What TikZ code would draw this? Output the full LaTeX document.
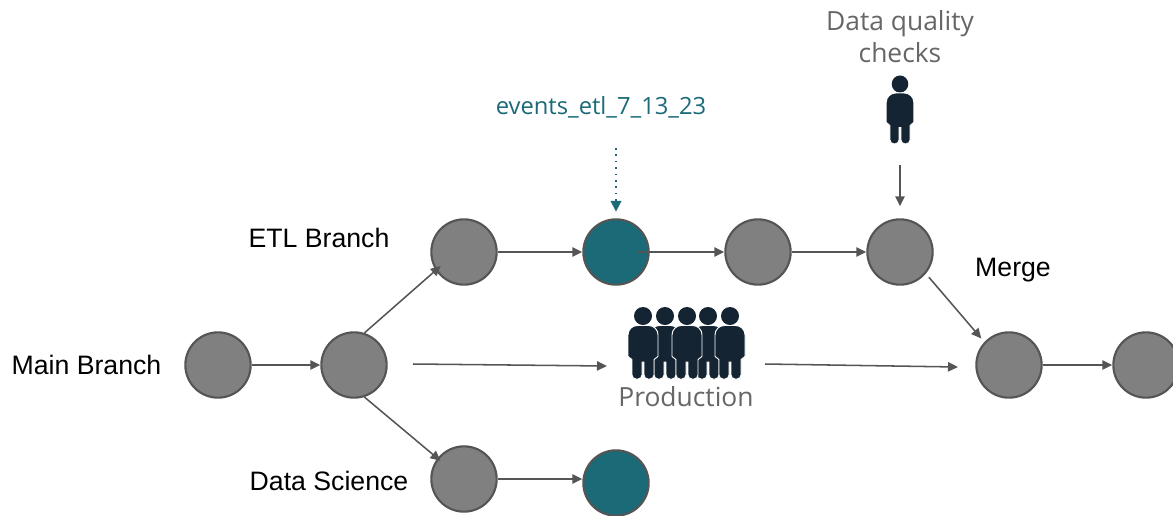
\documentclass[tikz,border=0pt]{standalone}
\usepackage{fontspec}
\setmainfont{Liberation Sans}
\newfontfamily\interfont{Open Sans}
\usetikzlibrary{arrows.meta}
\definecolor{tealc}{HTML}{1A6A78}
\definecolor{gfill}{HTML}{808080}
\definecolor{gline}{HTML}{555555}
\definecolor{gtext}{HTML}{666666}
\definecolor{navy}{HTML}{152433}
\tikzset{
  x=0.75pt,y=-0.75pt,
  base/.style={circle,draw=gline,line width=1.6pt,minimum size=49pt,inner sep=0pt},
  grey/.style={base,fill=gfill},
  tealnode/.style={base,fill=tealc},
  conn/.style={draw=gline,line width=1.15pt,-{Triangle[length=7.5pt,width=7pt]}},
  dotconn/.style={draw=tealc,line width=1.15pt,dash pattern=on 1.2pt off 3.6pt,-{Triangle[length=8pt,width=8pt]}},
  blacklabel/.style={font=\fontsize{20}{24}\selectfont,text=black,inner sep=0pt},
  greylabel/.style={font=\interfont\fontsize{19.8}{24}\selectfont,text=gtext,inner sep=0pt,align=center},
  teallabel/.style={font=\interfont\fontsize{17.8}{22}\selectfont,text=tealc,inner sep=0pt},
  person/.pic={
    \fill[navy] (0,0) circle (9);
    \fill[navy,draw=white,line width=0.7pt]
      (-15,30) [rounded corners=7pt] -- (-15,9.5) -- (15,9.5) -- (15,30)
      [sharp corners] -- (15,38) [rounded corners=1.3pt] -- (15,42) -- (11,42)
      [sharp corners] -- (11,58) [rounded corners=3pt] -- (11,63) -- (1,63)
      [sharp corners] -- (1,46) -- (-1,46) -- (-1,58) [rounded corners=3pt] -- (-1,63) -- (-11,63)
      [sharp corners] -- (-11,46) [rounded corners=1.3pt] -- (-11,42) -- (-15,42) [sharp corners] -- cycle;
  }
}
\begin{document}
\begin{tikzpicture}
\path[use as bounding box] (0,0) rectangle (1173,515);
\clip (0,0) rectangle (1173,515);
\node[grey] (main) at (218,365) {};
\node[grey] (fork) at (354,365) {};
\node[grey] (e1) at (464,252) {};
\node[tealnode] (e2) at (616,252) {};
\node[grey] (e3) at (758,252) {};
\node[grey] (e4) at (900,252) {};
\node[grey] (merge) at (1009,365) {};
\node[grey] (end) at (1146,365) {};
\node[grey] (d1) at (464,479) {};
\node[tealnode] (d2) at (616,483) {};

\node[blacklabel] (lmain) at (86.5,365) {Main Branch};
\node[blacklabel] (letl) at (319,238) {ETL Branch};
\node[blacklabel] (lds) at (329,481) {Data Science};
\node[blacklabel] (lmerge) at (1013,270) {Merge};
\node[teallabel] (ltag) at (601,107) {events\_etl\_7\_13\_23};
\node[greylabel] (lprod) at (686,397) {Production};
\node[greylabel] (lq) at (900,37) {Data quality\\checks};

\pic at (665,316) {person};
\pic at (708,316) {person};
\pic at (643,316) {person};
\pic at (687,316) {person};
\pic at (730,316) {person};
\pic[xscale=.92,yscale=.95] at (900,84) {person};

\coordinate (tagend) at (616,148);
\coordinate (qstart) at (900,165);
\coordinate (pa) at (413,364);
\coordinate (pb) at (607,366);
\coordinate (pc) at (765,364);
\coordinate (pd) at (958,367);

\draw[conn] (main) -- (fork);
\draw[conn,shorten >=-5pt] (fork.72) -- (e1.213);
\draw[conn,shorten >=-3pt] (fork.-72) -- (d1.142);
\draw[conn] (e1) -- (e2);
\draw[conn,shorten <=-9pt] (e2.east) -- (e3.west);
\draw[conn] (e3) -- (e4);
\draw[conn,shorten <=3.5pt,shorten >=3.5pt] (e4.-40) -- (merge.137);
\draw[conn] (merge) -- (end);
\draw[conn] (d1) -- (d1 -| d2.west);
\draw[conn] (pa) -- (pb);
\draw[conn] (pc) -- (pd);
\draw[conn] (qstart) -- ([yshift=9pt]e4.north);
\draw[dotconn] (tagend) -- ([yshift=5pt]e2.north);
\end{tikzpicture}
\end{document}
